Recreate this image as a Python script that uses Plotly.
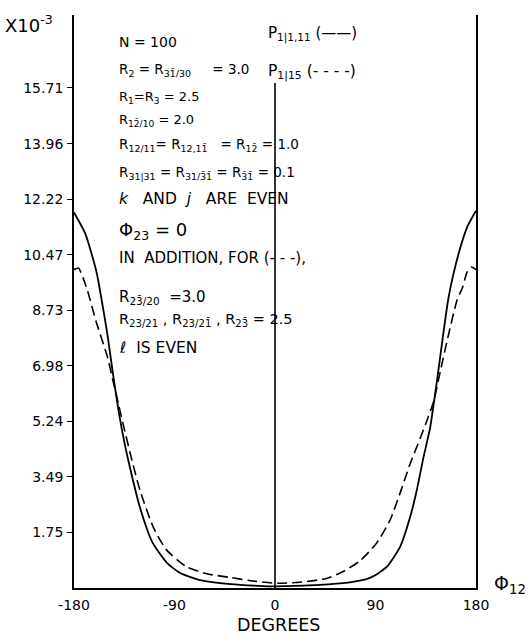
import plotly.graph_objects as go

# Angle phi_12 in degrees and probability values (x 10^-3)
solid_deg = [-180, -170, -160, -155, -150, -145, -140, -135, -130, -121, -110, -97, -85, -67, -40, -10,
             0, 10, 40, 67, 76, 85, 92, 100, 112, 121, 127, 133, 139, 145, 150, 155, 160, 166, 172, 180]
solid_val = [11.8, 11.14, 9.95, 9.0, 7.95, 6.7, 5.55, 4.6, 3.8, 2.54, 1.45, 0.8, 0.47, 0.25, 0.12, 0.06,
             0.05, 0.06, 0.1, 0.18, 0.23, 0.32, 0.45, 0.66, 1.29, 2.23, 3.08, 4.11, 5.05, 6.5, 7.8, 9.04, 9.89,
             10.7, 11.33, 11.85]

dashed_deg = [-180, -176, -172, -168, -160, -150, -145, -140, -135, -128, -121, -109, -97, -79, -60, -40, -22,
              0, 22, 46, 60, 76, 91, 103, 112, 121, 130, 137, 142, 148, 155, 163, 168, 172, 176, 180]
dashed_val = [10.0, 10.05, 9.75, 9.35, 8.35, 7.25, 6.5, 5.75, 5.0, 4.0, 3.08, 1.91, 1.19, 0.66, 0.44, 0.33, 0.23,
              0.15, 0.18, 0.3, 0.5, 0.85, 1.41, 2.13, 2.98, 3.9, 4.7, 5.35, 5.85, 6.8, 7.9, 9.04, 9.45, 9.92,
              10.08, 10.0]

x_ticks = [-180, -90, 0, 90, 180]
y_ticks = [1.75, 3.49, 5.24, 6.98, 8.73, 10.47, 12.22, 13.96, 15.71]
y_tick_text = ["1.75", "3.49", "5.24", "6.98", "8.73", "10.47", "12.22", "13.96", "15.71"]

W, H = 528, 636
L, R, T, B = 74, 52, 15, 48
PW, PH = W - L - R, H - T - B
FONT = "DejaVu Sans"
SP = "\u00a0"


def px(x):
    return (x - L) / PW


def py(y):
    return (H - B - y) / PH


fig = go.Figure()
fig.add_trace(go.Scatter(x=solid_deg, y=solid_val, mode="lines",
                         line=dict(color="black", width=1.8, shape="spline", smoothing=0.6),
                         showlegend=False, hoverinfo="skip"))
fig.add_trace(go.Scatter(x=dashed_deg, y=dashed_val, mode="lines",
                         line=dict(color="black", width=1.6, dash="10px,5px", shape="spline", smoothing=0.6),
                         showlegend=False, hoverinfo="skip"))

# vertical line at phi_12 = 0
fig.add_shape(type="line", xref="x", yref="paper", x0=0, x1=0, y0=0, y1=py(83),
              line=dict(color="black", width=1.6))

notes = [
    ("N = 100", 117, 42, 14),
    ("R<sub>2</sub> = R<sub>31\u0304/30</sub>" + SP * 5 + "= 3.0", 117, 70, 13.5),
    ("R<sub>1</sub>=R<sub>3</sub> = 2.5", 117, 98, 13),
    ("R<sub>12\u0304/10</sub> = 2.0", 117, 120, 13),
    ("R<sub>12/11</sub>= R<sub>12,11\u0304</sub>" + SP * 2 + " = R<sub>12\u0304</sub> = 1.0", 117, 145, 13.5),
    ("R<sub>31|31</sub> = R<sub>31/3\u03041\u0304</sub> = R<sub>3\u03041\u0304</sub> = 0.1", 117, 173, 13.5),
    ("<i>k</i>" + SP * 3 + "AND" + SP * 2 + "<i>j</i>" + SP * 3 + "ARE" + SP * 2 + "EVEN", 117, 199, 15.5),
    ("\u03a6<sub>23</sub> = 0", 117, 231, 18),
    ("IN" + SP * 2 + "ADDITION," + SP + "FOR (- - -),", 117, 258, 15),
    ("R<sub>23\u0304/20</sub>" + SP * 2 + "=3.0", 117, 297, 15),
    ("R<sub>23/21</sub> , R<sub>23/21\u0304</sub> , R<sub>23\u0304</sub> = 2.5", 117, 320, 14.5),
    ("<i>\u2113</i>" + SP * 2 + "IS" + SP + "EVEN", 117, 348, 15.5),
    ("P<sub>1|1,11</sub> (\u2014\u2014)", 266, 34, 15),
    ("P<sub>1|15</sub> (- - - -)", 266, 72, 15.5),
    ("X10<sup>-3</sup>", 3, 24, 18),
    ("\u03a6<sub>12</sub>", 492, 584, 19),
]
for text, x, y, size in notes:
    fig.add_annotation(text=text, xref="paper", yref="paper", x=px(x), y=py(y),
                       xanchor="left", yanchor="middle", showarrow=False,
                       font=dict(family=FONT, size=size, color="black"))

fig.add_annotation(text="DEGREES", xref="paper", yref="paper", x=px(278), y=py(625),
                   xanchor="center", yanchor="middle", showarrow=False,
                   font=dict(family=FONT, size=17.5, color="black"))

fig.update_xaxes(range=[-180, 180], tickvals=x_ticks, ticktext=[str(v) for v in x_ticks],
                 showline=True, linecolor="black", linewidth=1.8, mirror=False,
                 showgrid=False, zeroline=False, ticks="", ticklabelstandoff=3,
                 tickfont=dict(family=FONT, size=14, color="black"))
fig.update_yaxes(range=[0, 18], tickvals=y_ticks, ticktext=y_tick_text,
                 showline=True, linecolor="black", linewidth=1.8, mirror=True,
                 showgrid=False, zeroline=False, ticks="outside", ticklen=5, tickwidth=1.4,
                 tickcolor="black", ticklabelstandoff=1,
                 tickfont=dict(family=FONT, size=14, color="black"))

fig.update_layout(width=W, height=H, margin=dict(l=L, r=R, t=T, b=B),
                  paper_bgcolor="white", plot_bgcolor="white")

fig.write_html("out.html")
